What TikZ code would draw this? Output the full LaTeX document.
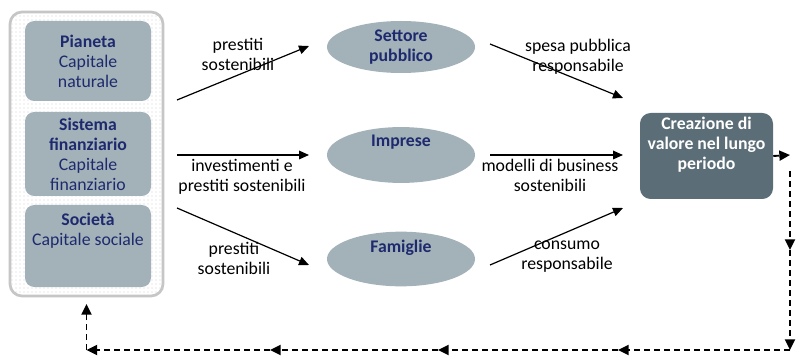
\documentclass[tikz,border=0pt]{standalone}
\usepackage{fontspec}
\setmainfont{Carlito}
\usetikzlibrary{arrows.meta,positioning,patterns,shapes.geometric}
\definecolor{blu}{HTML}{1F2A6E}
\definecolor{grigio}{HTML}{A3B2B9}
\definecolor{ardesia}{HTML}{5B6E77}
\newcommand{\testo}{\fontsize{13.3}{15}\selectfont}
\tikzset{
	cornice/.style={draw=gray!45,line width=2pt,rounded corners=9pt,minimum width=114.75pt,minimum height=213pt,pattern=dots,pattern color=gray!35},
	capbox/.style={fill=grigio,rounded corners=7pt,minimum width=94.5pt,text=blu,align=center,inner sep=0pt},
	settore/.style={ellipse,fill=grigio,minimum width=111pt,minimum height=39pt,text=blu,font=\testo\bfseries,align=center,inner sep=0pt},
	freccia/.style={-{Triangle[length=7.5pt,width=6.5pt]},line width=0.9pt},
	ritorno/.style={-{Triangle[length=8pt,width=7.5pt]},dash pattern=on 4.5pt off 3pt,line width=1.4pt},
	etichetta/.style={align=center,inner sep=0pt}
}
\begin{document}
\begin{tikzpicture}[x=0.75pt,y=-0.75pt,font=\testo]
	\fill[white] (0,0) rectangle (803,356);
	\useasboundingbox (0,0) rectangle (803,356);

	% capitali
	\node[cornice] (capitali) at (86.5,154) {};
	\node[capbox,minimum height=60pt] (pianeta) at (88,61) {\textbf{Pianeta}\\Capitale\\naturale};
	\node[capbox,minimum height=63pt] (sistema) at (88,154) {\textbf{Sistema}\\\textbf{finanziario}\\Capitale\\finanziario};
	\node[capbox,minimum height=61.5pt] (societa) at (88,246) {};
	\node[etichetta,text=blu,below=6pt of societa.north] (societaTxt) {\textbf{Società}\\Capitale sociale};

	% settori
	\node[settore] (pubblico) at (401,47) {Settore\\pubblico};
	\node[settore,minimum height=41pt] (imprese) at (401,155) {Imprese\\[6pt]};
	\node[settore,minimum height=41pt] (famiglie) at (401,259) {Famiglie\\[4pt]};

	\node[fill=ardesia,rounded corners=8pt,minimum width=99.75pt,minimum height=64.5pt,text=white,font=\testo\bfseries,align=center,inner sep=0pt] (valore) at (706.5,156) {Creazione di\\valore nel lungo\\periodo\\[4pt]};

	% frecce
	\coordinate (a1) at (177,100); \coordinate (b1) at (309,46);
	\coordinate (a2) at (177,155); \coordinate (b2) at (309,155);
	\coordinate (a3) at (177,208); \coordinate (b3) at (309,265);
	\coordinate (d1) at (490,44); \coordinate (e1) at (623,98);
	\coordinate (d2) at (490,155); \coordinate (e2) at (623,155);
	\coordinate (d3) at (490,265); \coordinate (e3) at (623,208);
	\draw[freccia] (a1) -- (b1);
	\draw[freccia] (a2) -- (b2);
	\draw[freccia] (a3) -- (b3);
	\draw[freccia] (d1) -- (e1);
	\draw[freccia] (d2) -- (e2);
	\draw[freccia] (d3) -- (e3);

	\node[etichetta] (l1) at (238,54) {prestiti\\sostenibili};
	\node[etichetta] (l2) at (242,177) {investimenti e\\prestiti sostenibili};
	\node[etichetta] (l3) at (234,258) {prestiti\\sostenibili};
	\node[etichetta] (l4) at (578,57) {spesa pubblica\\responsabile};
	\node[etichetta] (l5) at (550,175) {modelli di business\\sostenibili};
	\node[etichetta] (l6) at (567,257) {consumo\\responsabile};

	% ritorno
	\coordinate (r0) at (790,155);
	\coordinate (r1) at (790,171);
	\coordinate (r2) at (790,250);
	\coordinate (r3) at (790,350);
	\coordinate (r4) at (618,350);
	\coordinate (r5) at (438,350);
	\coordinate (r6) at (270,350);
	\coordinate (r7) at (86.5,350);
	\draw[ritorno] (valore.east) -- (r0);
	\draw[ritorno] (r1) -- (r2);
	\draw[ritorno] (r2) -- (r3);
	\draw[ritorno] (r3) -- (r4);
	\draw[ritorno] (r4) -- (r5);
	\draw[ritorno] (r5) -- (r6);
	\draw[ritorno] (r6) -- (r7);
	\draw[ritorno] (r7) -- ([yshift=-5pt]capitali.south);
\end{tikzpicture}
\end{document}
